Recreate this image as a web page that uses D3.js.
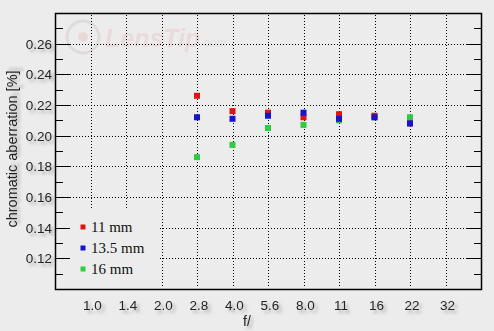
<!DOCTYPE html>
<html>
<head>
<meta charset="utf-8">
<script src="https://cdn.jsdelivr.net/npm/d3@7"></script>
<style>
  body { margin: 0; background: #ececec; }
  svg { display: block; }
  text { font-family: "Liberation Sans", Arial, sans-serif; }
  text.serif { font-family: "Liberation Serif", "Times New Roman", serif; }
</style>
</head>
<body>
<svg id="chart"></svg>
<script>
const apertures = ["1.0", "1.4", "2.0", "2.8", "4.0", "5.6", "8.0", "11", "16", "22", "32"]
const measured = ["2.8", "4.0", "5.6", "8.0", "11", "16", "22"]
const ca11 = [0.226, 0.216, 0.215, 0.212, 0.214, 0.213, 0.208]
const ca135 = [0.212, 0.211, 0.213, 0.215, 0.211, 0.212, 0.208]
const ca16 = [0.186, 0.194, 0.205, 0.207, 0.210, 0.212, 0.212]
const yTicks = [0.12, 0.14, 0.16, 0.18, 0.20, 0.22, 0.24, 0.26]
const series = [
  { name: "16 mm", color: "#2ecc40", values: ca16 },
  { name: "11 mm", color: "#e31212", values: ca11 },
  { name: "13.5 mm", color: "#1414d2", values: ca135 }
]
const legendOrder = ["11 mm", "13.5 mm", "16 mm"]

const W = 494, H = 331
const pL = 55, pR = 481, pT = 13, pB = 289

const svg = d3.select("#chart").attr("width", W).attr("height", H)

// shadow for labels
const defs = svg.append("defs")
const f = defs.append("filter").attr("id", "shadow")
  .attr("x", "-20%").attr("y", "-30%").attr("width", "150%").attr("height", "180%")
f.append("feDropShadow").attr("dx", 3).attr("dy", 3).attr("stdDeviation", 1.8)
  .attr("flood-color", "#777").attr("flood-opacity", 0.55)

svg.append("rect").attr("width", W).attr("height", H).attr("fill", "#ececec")

const x = d3.scalePoint().domain(apertures).range([pL, pR]).padding(1)
const y = d3.scaleLinear().domain([0.10, 0.28]).range([pB, pT])

// watermark
const wm = svg.append("g").attr("opacity", 0.45)
wm.append("circle").attr("cx", 83).attr("cy", 37).attr("r", 16)
  .attr("fill", "none").attr("stroke", "#d0c8c8").attr("stroke-width", 3)
wm.append("circle").attr("cx", 83).attr("cy", 37).attr("r", 5).attr("fill", "#e5c4c4")
const wt = wm.append("text").attr("x", 105).attr("y", 47)
wt.append("tspan").text("LensTip")
  .attr("font-size", 25).attr("font-weight", "bold").attr("font-style", "italic")
  .attr("fill", "#e8c6c6")
wt.append("tspan").text(".com")
  .attr("font-size", 12).attr("font-style", "italic").attr("fill", "#cfcfcf")

// grid
const grid = svg.append("g").attr("stroke", "#000").attr("stroke-dasharray", "1,2")
grid.selectAll("line.h").data(yTicks).enter().append("line")
  .attr("x1", pL + 15).attr("x2", pR - 14)
  .attr("y1", d => Math.round(y(d)) + 0.5).attr("y2", d => Math.round(y(d)) + 0.5)
grid.selectAll("line.v").data(apertures).enter().append("line")
  .attr("x1", d => Math.round(x(d)) + 0.5).attr("x2", d => Math.round(x(d)) + 0.5)
  .attr("y1", pT + 2).attr("y2", pB - 2)

// legend box hides grid underneath
svg.append("rect").attr("x", pL + 1).attr("y", 210).attr("width", 104).attr("height", pB - 211)
  .attr("fill", "#ececec")

// ticks on both sides
const ticks = svg.append("g").attr("stroke", "#000")
const minor = d3.range(0.11, 0.275, 0.01)
ticks.selectAll("line.l").data(minor).enter().append("line")
  .attr("x1", pL).attr("x2", (d, i) => pL + (i % 2 ? 15 : 8))
  .attr("y1", d => Math.round(y(d)) + 0.5).attr("y2", d => Math.round(y(d)) + 0.5)
ticks.selectAll("line.r").data(minor).enter().append("line")
  .attr("x1", pR).attr("x2", (d, i) => pR - (i % 2 ? 14 : 7))
  .attr("y1", d => Math.round(y(d)) + 0.5).attr("y2", d => Math.round(y(d)) + 0.5)

// frame
svg.append("rect").attr("x", pL + 0.5).attr("y", pT + 0.5)
  .attr("width", pR - pL).attr("height", pB - pT)
  .attr("fill", "none").attr("stroke", "#000").attr("stroke-width", 1.5)

// tick labels
svg.append("g").selectAll("text").data(yTicks).enter().append("text")
  .attr("x", 52).attr("y", d => y(d) + 5)
  .attr("text-anchor", "end").attr("font-size", 13.5).attr("fill", "#222")
  .attr("filter", "url(#shadow)")
  .text(d => d.toFixed(2))
svg.append("g").selectAll("text").data(apertures).enter().append("text")
  .attr("x", d => x(d) + 2).attr("y", 310)
  .attr("text-anchor", "middle").attr("font-size", 13.5).attr("fill", "#222")
  .attr("filter", "url(#shadow)")
  .text(d => d)

// axis titles
svg.append("text").attr("x", 247).attr("y", 326).attr("text-anchor", "middle")
  .attr("font-size", 14).attr("fill", "#222").attr("filter", "url(#shadow)").text("f/")
svg.append("text").attr("transform", "translate(17,149) rotate(-90)")
  .attr("text-anchor", "middle").attr("font-size", 14.5).attr("fill", "#222")
  .attr("filter", "url(#shadow)").text("chromatic aberration [%]")

// points
const s = 6
series.forEach(function (ser) {
  svg.append("g").selectAll("rect").data(ser.values).enter().append("rect")
    .attr("x", (d, i) => x(measured[i]) - s / 2)
    .attr("y", d => y(d) - s / 2)
    .attr("width", s).attr("height", s)
    .attr("fill", ser.color)
})

// legend
const lg = svg.append("g").selectAll("g").data(legendOrder).enter().append("g")
  .attr("transform", (d, i) => "translate(83," + (227 + i * 21) + ")")
lg.append("rect").attr("x", -2.5).attr("y", -2.5).attr("width", 5).attr("height", 5)
  .attr("fill", d => series.find(o => o.name === d).color)
lg.append("text").attr("class", "serif").attr("x", 8).attr("y", 5).attr("font-size", 15)
  .attr("fill", "#111")
  .text(d => d)
</script>
</body>
</html>
